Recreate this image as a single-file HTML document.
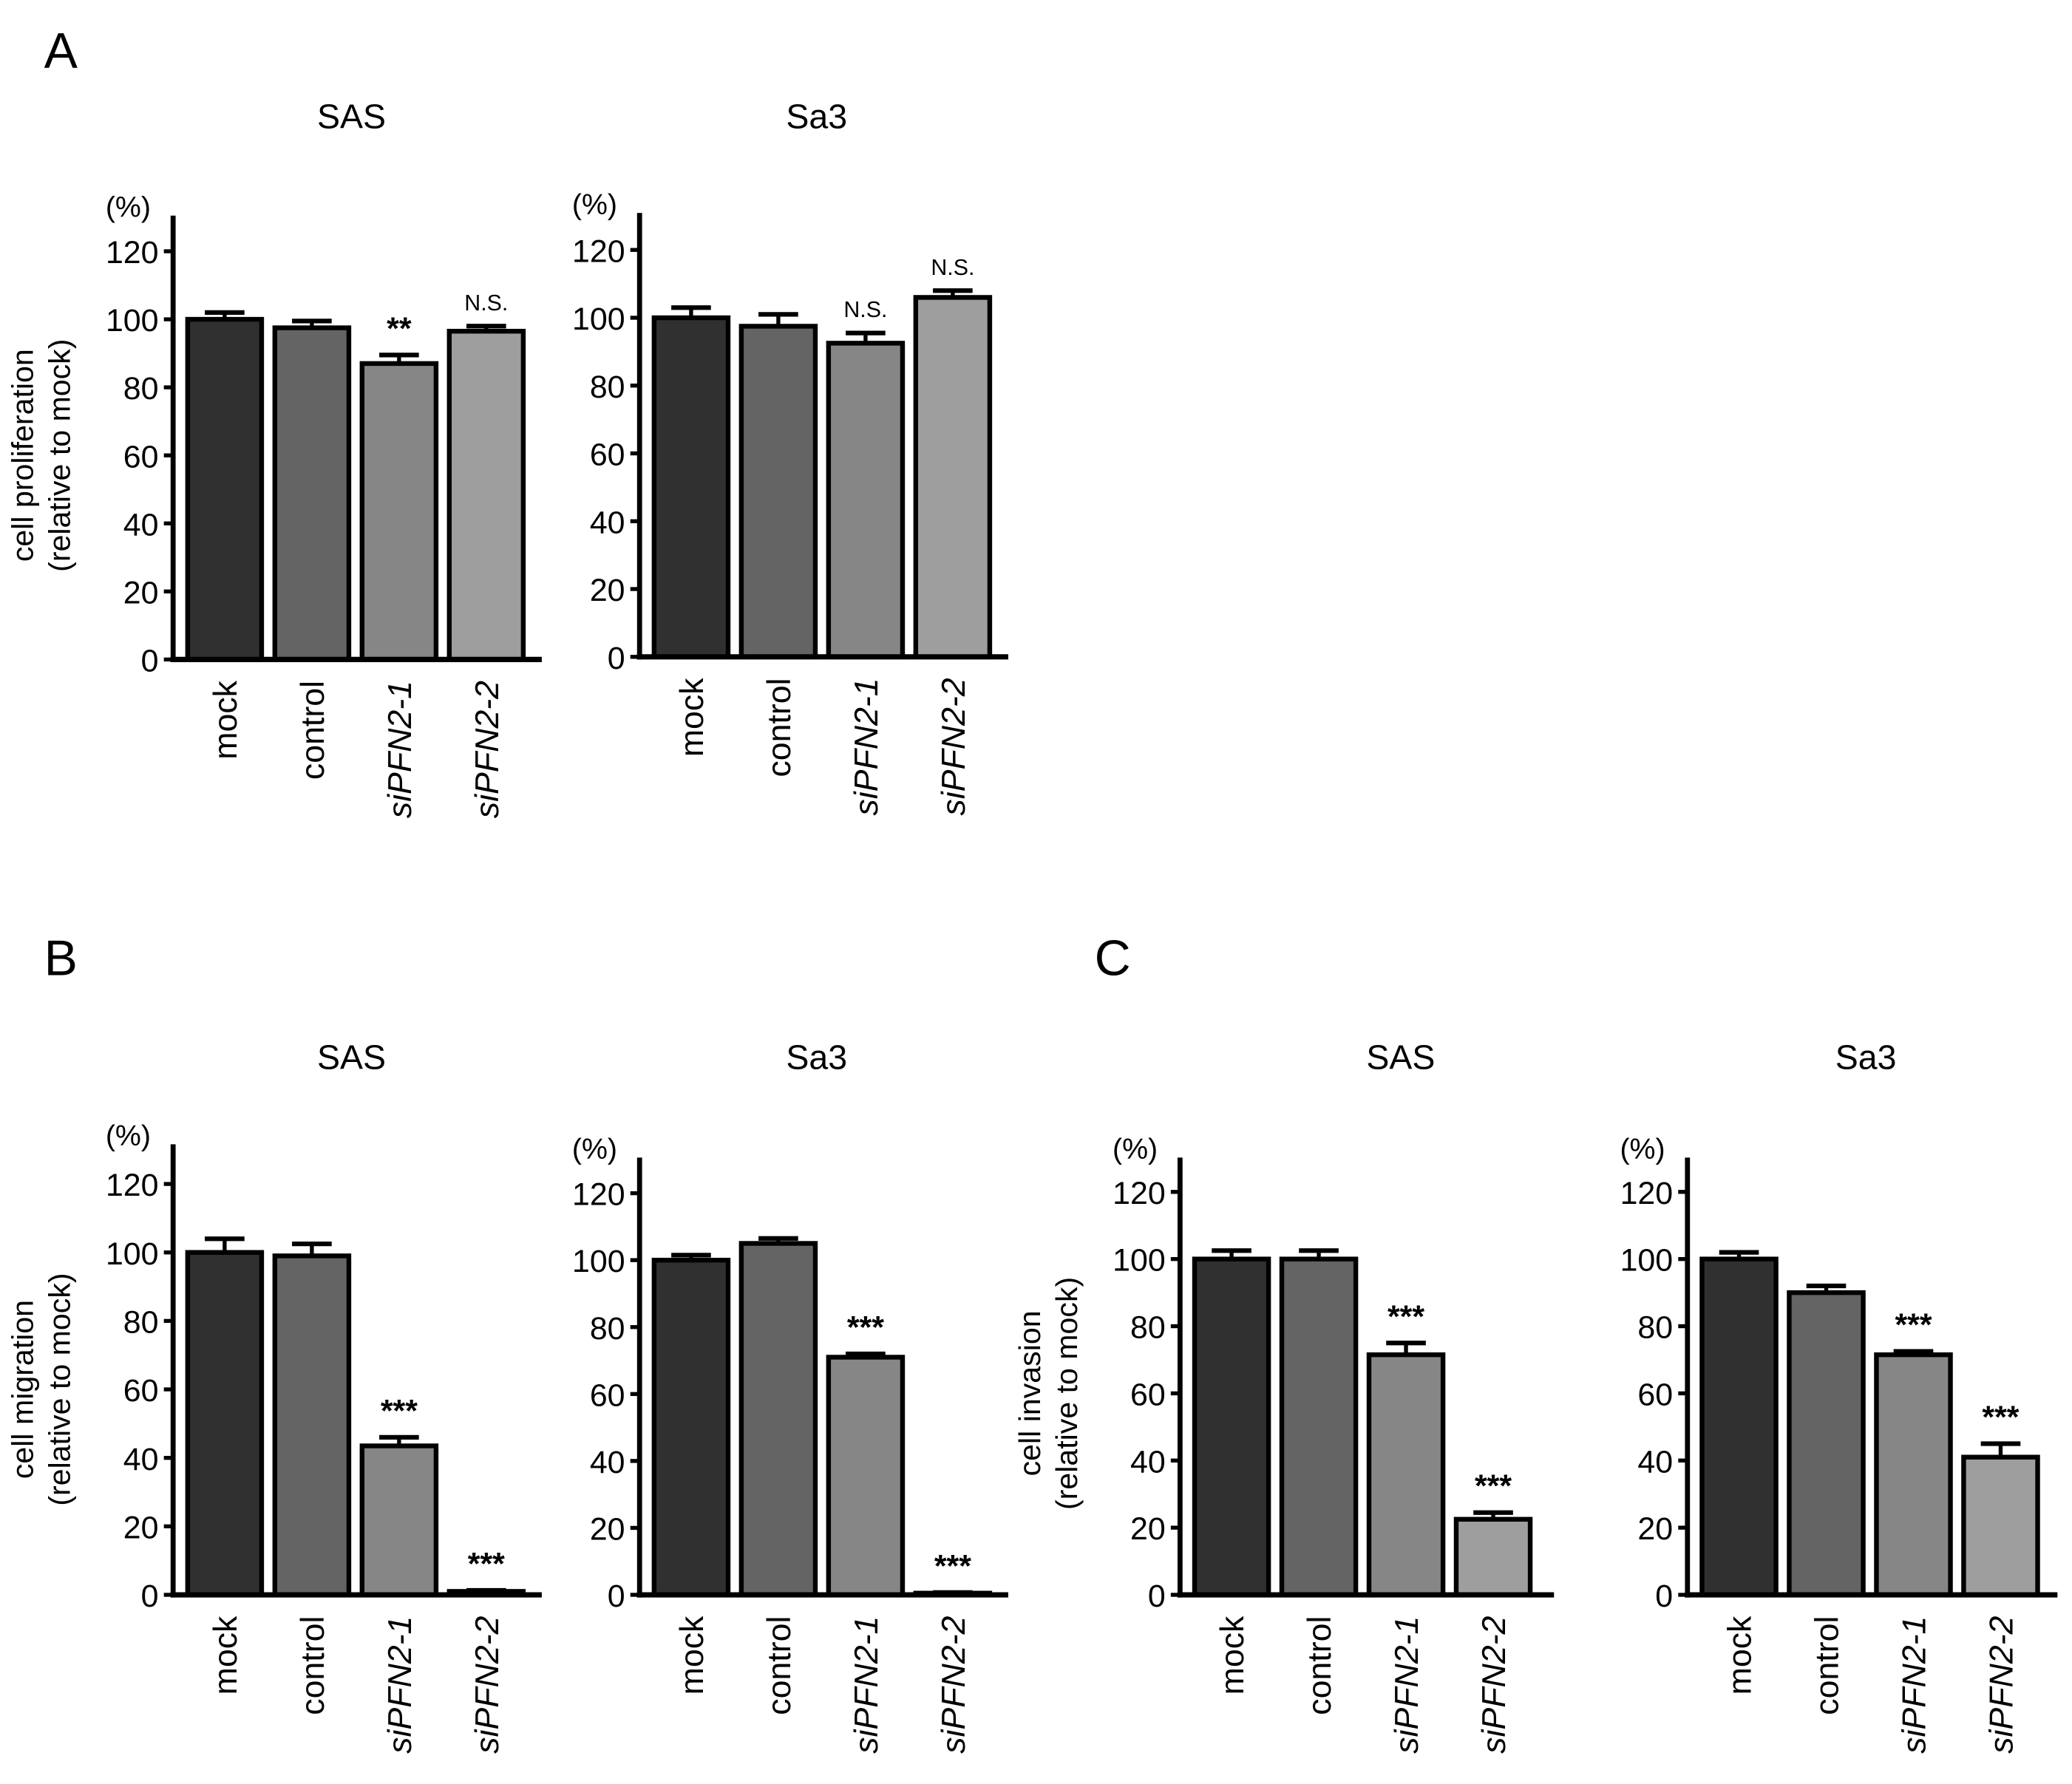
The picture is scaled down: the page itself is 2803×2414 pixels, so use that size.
<!DOCTYPE html>
<html><head><meta charset="utf-8"><style>
html,body{margin:0;padding:0;background:#fff;}
svg{display:block;}
text{font-family:"Liberation Sans",Arial,sans-serif;fill:#000;}
</style></head><body>
<svg id="fig" xmlns="http://www.w3.org/2000/svg" width="2803" height="2414" viewBox="0 0 1568 1350">
<rect x="0" y="0" width="1568" height="1350" fill="#fff"/>
<text x="46" y="51" font-size="38" text-anchor="middle">A</text>
<text x="46" y="738" font-size="38" text-anchor="middle">B</text>
<text x="842" y="738" font-size="38" text-anchor="middle">C</text>
</svg>
<script>
const categories = ["mock", "control", "siPFN2-1", "siPFN2-2"];
const tickValues = [0, 20, 40, 60, 80, 100, 120];
const aSasValues = [100, 97.5, 87, 96.5];
const aSasErrors = [2, 2, 2.5, 1.5];
const aSasMarks = ["", "", "**", "N.S."];
const aSa3Values = [100, 97.5, 92.5, 106];
const aSa3Errors = [3, 3.5, 3, 2];
const aSa3Marks = ["", "", "N.S.", "N.S."];
const bSasValues = [100, 99, 43.5, 1];
const bSasErrors = [4, 3.5, 2.5, 0.3];
const bSasMarks = ["", "", "***", "***"];
const bSa3Values = [100, 105, 71, 0.5];
const bSa3Errors = [1.5, 1.5, 1, 0.2];
const bSa3Marks = ["", "", "***", "***"];
const cSasValues = [100, 100, 71.5, 22.5];
const cSasErrors = [2.5, 2.5, 3.5, 2];
const cSasMarks = ["", "", "***", "***"];
const cSa3Values = [100, 90, 71.5, 41];
const cSa3Errors = [2, 2, 1, 4];
const cSa3Marks = ["", "", "***", "***"];

const colors = ["#303030", "#646464", "#868686", "#9e9e9e"];
const NS = "http://www.w3.org/2000/svg";
const svg = document.getElementById("fig");
function mk(tag, attrs, parent) {
  const e = document.createElementNS(NS, tag);
  for (const k in attrs) e.setAttribute(k, attrs[k]);
  (parent || svg).appendChild(e);
  return e;
}
function panel(cfg, values, errors, marks) {
  const g = mk("g", {});
  
  
  const yS = v => cfg.y0 - (v / 120) * (cfg.y0 - cfg.y120);
  const t = mk("text", {x: cfg.tx, y: cfg.ty, "font-size": 26, "text-anchor": "middle"}, g);
  t.textContent = cfg.title;
  
  
  const pc = mk("text", {x: cfg.ax - 34, y: cfg.top + 1, "font-size": 22, "text-anchor": "middle"}, g);
  pc.textContent = "(%)";
  
  
  if (cfg.ylabel) {
    const yl = mk("text", {transform: `translate(${cfg.ax - 106},${(cfg.y0 + cfg.y120) / 2}) rotate(-90)`, "font-size": 23, "text-anchor": "middle"}, g);
    
    
    const l1 = mk("tspan", {x: 0, y: 0}, yl); l1.textContent = cfg.ylabel;
    const l2 = mk("tspan", {x: 0, y: 28}, yl); l2.textContent = "(relative to mock)";
  }
  tickValues.forEach(v => {
    const y = yS(v);
    const tk = mk("line", {x1: cfg.ax - 7, x2: cfg.ax, y1: y, y2: y, stroke: "#000", "stroke-width": 3}, g);
    
    
    const tl = mk("text", {x: cfg.ax - 11, y: y + 9, "font-size": 24, "text-anchor": "end"}, g);
    tl.textContent = v;
    
    
  });
  const pitch = 66, bw = 56;
  values.forEach((v, i) => {
    const x = cfg.b0 + i * pitch;
    const cx = x + bw / 2;
    const yTop = yS(v);
    const yErr = yS(v + errors[i]);
    const el = mk("line", {x1: cx, x2: cx, y1: yTop, y2: yErr, stroke: "#000", "stroke-width": 3}, g);
    
    
    const cap = mk("line", {x1: cx - 15, x2: cx + 15, y1: yErr, y2: yErr, stroke: "#000", "stroke-width": 3.5}, g);
    
    
    const r = mk("rect", {x: x, y: yTop, width: bw, height: Math.max(cfg.y0 - yTop, 0.5), fill: colors[i], stroke: "#000", "stroke-width": 3.6}, g);
    
    
    if (marks[i]) {
      const isNS = marks[i] === "N.S.";
      const m = mk("text", {x: cx, y: yErr - (isNS ? 12 : 12), "font-size": isNS ? 17 : 24, "text-anchor": "middle", "font-weight": isNS ? "normal" : "bold"}, g);
      m.textContent = marks[i];
      
      
    }
    const isSi = categories[i].startsWith("si");
    const cl = mk("text", {transform: `translate(${cx + 9},${cfg.y0 + 16}) rotate(-90)`, "font-size": 25, "text-anchor": "end"}, g);
    
    
    if (isSi) {
      const a = mk("tspan", {"font-style": "italic"}, cl); a.textContent = categories[i];
    } else cl.textContent = categories[i];
  });
  const ya = mk("line", {x1: cfg.ax, x2: cfg.ax, y1: cfg.top, y2: cfg.y0 + 2, stroke: "#000", "stroke-width": 3.8}, g);
  
  
  const xa = mk("line", {x1: cfg.ax - 2, x2: cfg.axEnd, y1: cfg.y0, y2: cfg.y0, stroke: "#000", "stroke-width": 4}, g);
  
  
}
panel({name: "proliferation-sas-chart", title: "SAS", tx: 266, ty: 97, ax: 131, top: 163, y0: 499, y120: 190, b0: 142, axEnd: 410, ylabel: "cell proliferation"}, aSasValues, aSasErrors, aSasMarks);
panel({name: "proliferation-sa3-chart", title: "Sa3", tx: 618, ty: 97, ax: 484, top: 161, y0: 497, y120: 189, b0: 495, axEnd: 763}, aSa3Values, aSa3Errors, aSa3Marks);
panel({name: "migration-sas-chart", title: "SAS", tx: 266, ty: 809, ax: 131, top: 866, y0: 1207, y120: 896, b0: 142, axEnd: 410, ylabel: "cell migration"}, bSasValues, bSasErrors, bSasMarks);
panel({name: "migration-sa3-chart", title: "Sa3", tx: 618, ty: 809, ax: 484, top: 876, y0: 1207, y120: 903, b0: 495, axEnd: 763}, bSa3Values, bSa3Errors, bSa3Marks);
panel({name: "invasion-sas-chart", title: "SAS", tx: 1060, ty: 809, ax: 893, top: 876, y0: 1207, y120: 902, b0: 904, axEnd: 1176, ylabel: "cell invasion"}, cSasValues, cSasErrors, cSasMarks);
panel({name: "invasion-sa3-chart", title: "Sa3", tx: 1412, ty: 809, ax: 1277, top: 876, y0: 1207, y120: 902, b0: 1288, axEnd: 1557}, cSa3Values, cSa3Errors, cSa3Marks);
</script>
</body></html>
